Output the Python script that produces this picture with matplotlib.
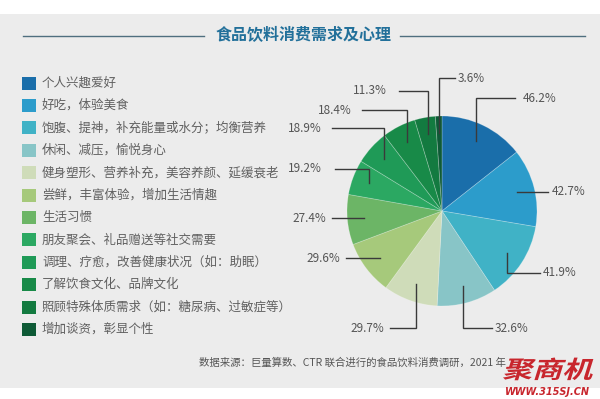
import matplotlib
matplotlib.use("Agg")
import matplotlib.pyplot as plt
from matplotlib.patches import Rectangle, PathPatch
from matplotlib.textpath import TextPath
from matplotlib.font_manager import FontProperties
from matplotlib.transforms import Affine2D
import numpy as np

plt.rcParams['font.family'] = ['Noto Sans CJK SC', 'DejaVu Sans']

title = "食品饮料消费需求及心理"
categories = [
    "个人兴趣爱好",
    "好吃，体验美食",
    "饱腹、提神，补充能量或水分；均衡营养",
    "休闲、减压，愉悦身心",
    "健身塑形、营养补充，美容养颜、延缓衰老",
    "尝鲜，丰富体验，增加生活情趣",
    "生活习惯",
    "朋友聚会、礼品赠送等社交需要",
    "调理、疗愈，改善健康状况（如：助眠）",
    "了解饮食文化、品牌文化",
    "照顾特殊体质需求（如：糖尿病、过敏症等）",
    "增加谈资，彰显个性",
]
values = [46.2, 42.7, 41.9, 32.6, 29.7, 29.6, 27.4, 19.2, 18.9, 18.4, 11.3, 3.6]
colors = ["#1a6eaa", "#2c9ccb", "#40b2c6", "#88c5c7", "#cfdcb9", "#a6c97b",
          "#6cb566", "#2ba862", "#1f9a57", "#188a48", "#137a40", "#0e5a36"]
source = "数据来源：巨量算数、CTR 联合进行的食品饮料消费调研，2021 年"

# label layout (pixel coords): label y, line end x, text x, alignment
label_layout = [
    (98, 515, 523, 'left'),
    (None, 548, 552, 'left'),
    (273, 540, 543, 'left'),
    (328, 492, 495, 'left'),
    (328, 390, 384, 'right'),
    (None, 346, 340, 'right'),
    (None, 332, 326, 'right'),
    (169, 335, 322, 'right'),
    (128, 332, 322, 'right'),
    (110, 362, 352, 'right'),
    (91, 399, 387, 'right'),
    (78, 455, 458, 'left'),
]

W, H = 600, 399
fig = plt.figure(figsize=(6, 3.99), dpi=100, facecolor='white')
ax = fig.add_axes([0, 0, 1, 1])

ax.add_patch(Rectangle((0, 14), W, 374, facecolor='#ececec', edgecolor='none', zorder=0))

# title with side rules
ax.text(304, 35, title, ha='center', va='center', fontsize=11.5, fontweight='bold',
        color='#22709a', zorder=3)
ax.plot([23, 204], [36, 36], color='#4f6f7f', lw=1.0, zorder=2)
ax.plot([400, 585], [36, 36], color='#4f6f7f', lw=1.0, zorder=2)

# legend
for i, (cat, col) in enumerate(zip(categories, colors)):
    y = 83 + i * 22.4
    ax.add_patch(Rectangle((22, y - 6.5), 14, 13, facecolor=col, edgecolor='none', zorder=3))
    ax.text(42, y, cat, ha='left', va='center', fontsize=9, color='#606060', zorder=3)

# pie
cx, cy, R = 442, 211, 95
wedges, _ = ax.pie(values, colors=colors, startangle=-90, counterclock=True,
                   center=(cx, cy), radius=R, frame=True,
                   wedgeprops=dict(edgecolor=(1, 1, 1, 0.25), linewidth=0.6))
for w in wedges:
    w.set_zorder(2)

for w, v, (ly, lx, tx, ha) in zip(wedges, values, label_layout):
    mid = np.deg2rad((w.theta1 + w.theta2) / 2)
    r = 0.82 * R
    ax_x = cx + r * np.cos(mid)
    ax_y = cy + r * np.sin(mid)
    if ly is None:
        ly = ax_y
    ax.plot([ax_x, ax_x, lx], [ax_y, ly, ly], color='#3a3a3a', lw=1.0, zorder=4,
            solid_joinstyle='miter')
    ax.text(tx, ly, f"{v}%", ha=ha, va='center', fontsize=8.5, color='#555555', zorder=4)

# source
ax.text(199, 363, source, ha='left', va='center', fontsize=7.5, color='#555555', zorder=3)

# watermark (slanted)
wm = TextPath((0, 0), "聚商机", size=1,
              prop=FontProperties(family='Noto Sans CJK SC', weight='bold'))
wm_tr = Affine2D().skew_deg(14, 0).scale(30, -24).translate(502, 378)
ax.add_patch(PathPatch(wm_tr.transform_path(wm), facecolor='#c8262d',
                       edgecolor='none', zorder=5))
ax.text(547, 392, "WWW.315SJ.CN", ha='center', va='center', fontsize=7, fontweight='bold',
        fontstyle='italic', color='#c8262d', family='DejaVu Sans', zorder=5)

ax.set_xlim(0, W)
ax.set_ylim(H, 0)
ax.set_aspect('auto')
ax.axis('off')

fig.savefig("out.png", dpi=100, facecolor='white')
